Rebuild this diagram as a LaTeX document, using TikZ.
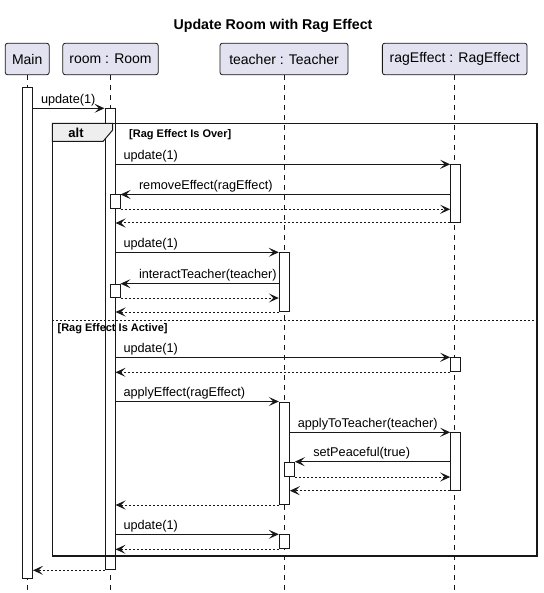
\documentclass[tikz,border=0pt]{standalone}
\usepackage{fontspec}
\setmainfont{Liberation Sans}
\usetikzlibrary{arrows.meta}
\definecolor{umlline}{HTML}{181818}
\definecolor{umlbox}{HTML}{E2E2F0}
\definecolor{umltab}{HTML}{EEEEEE}

\tikzset{
	participant/.style={draw=umlline, fill=umlbox, rounded corners=2.5pt, line width=0.8pt,
		minimum height=31.6pt, inner sep=0pt, font=\fontsize{14}{16}\selectfont},
	lifeline/.style={draw=umlline, line width=0.5pt, dash pattern=on 5pt off 5pt},
	act/.style={draw=umlline, fill=white, line width=1pt, minimum width=10pt, inner sep=0pt, anchor=north},
	call/.style={draw=umlline, line width=1pt, -{Stealth[length=10pt,width=9pt,inset=4.5pt]}},
	reply/.style={call, dash pattern=on 2pt off 2pt},
	msg/.style={font=\fontsize{12.7}{14}\selectfont, anchor=base west, inner sep=0pt, yshift=5pt},
	guard/.style={font=\bfseries\fontsize{11}{13}\selectfont, anchor=base west, inner sep=0pt},
}

\begin{document}
\begin{tikzpicture}[x=1pt, y=-1pt]
	\useasboundingbox[fill=white] (0,0) rectangle (543,593);
	\node[font=\bfseries\fontsize{14.2}{16}\selectfont, anchor=base] (title) at (273,30) {Update Room with Rag Effect};

	% participants
	\node[participant, minimum width=44pt] (main) at (27.2,59) {Main};
	\node[participant, minimum width=95.4pt] (room) at (110.5,59) {room : Room};
	\node[participant, minimum width=128pt] (teacher) at (284,59) {teacher : Teacher};
	\node[participant, minimum width=144.7pt] (rag) at (454.7,59) {ragEffect : RagEffect};
	\coordinate (bottom) at (0,590);
	\foreach \p in {main,room,teacher,rag} {
		\draw[lifeline] (\p.south) -- (\p.south |- bottom);
	}

	% activations
	\node[act, minimum height=491.3pt] (m0) at (27.5,86.7) {};
	\node[act, minimum height=461pt] (r0) at (110,108.3) {};
	\node[act, minimum height=57.7pt] (g1) at (455.7,164.3) {};
	\node[act, minimum height=13.8pt] (r1) at (115,194.5) {};
	\node[act, minimum height=58.7pt] (t1) at (284.3,252.3) {};
	\node[act, minimum height=13.3pt] (r2) at (115,283.7) {};
	\node[act, minimum height=14pt] (g2) at (455.7,357.3) {};
	\node[act, minimum height=102.5pt] (t2) at (284.3,401.5) {};
	\node[act, minimum height=57.4pt] (g3) at (455.7,432.3) {};
	\node[act, minimum height=14.3pt] (t3) at (289.3,461.7) {};
	\node[act, minimum height=14pt] (t4) at (284.3,534.3) {};

	% alt frame
	\draw[draw=umlline, line width=1.5pt] (52.3,123.5) rectangle (537,556);
	\draw[draw=umlline, fill=umltab, line width=1pt] (52.3,123.5) -- (112.7,123.5) -- (112.7,130) -- (103,141.5) -- (52.3,141.5) -- cycle;
	\node[font=\bfseries\fontsize{13}{15}\selectfont, anchor=base, inner sep=0pt] (alt) at (76,138) {alt};
	\node[guard] (over) at (129,137.5) {[Rag Effect Is Over]};
	\draw[draw=umlline, line width=1pt, dash pattern=on 2pt off 2pt] (52.3,320.3) -- (537,320.3);
	\node[guard] (active) at (57.4,331.5) {[Rag Effect Is Active]};

	% messages
	\draw[call] (m0.east |- r0.north) -- (r0.north west) node[msg, pos=0, xshift=7.5pt] {update(1)};
	\draw[call] (r0.east |- g1.north) -- (g1.north west) node[msg, pos=0, xshift=7.5pt] {update(1)};
	\draw[call] (g1.west |- r1.north) -- (r1.north east) node[msg, pos=1, xshift=18pt] {removeEffect(ragEffect)};
	\draw[reply] (r1.south east) -- (g1.west |- r1.south);
	\draw[reply] (g1.south west) -- (r0.east |- g1.south);
	\draw[call] (r0.east |- t1.north) -- (t1.north west) node[msg, pos=0, xshift=7.5pt] {update(1)};
	\draw[call] (t1.west |- r2.north) -- (r2.north east) node[msg, pos=1, xshift=18pt] {interactTeacher(teacher)};
	\draw[reply] (r2.south east) -- (t1.west |- r2.south);
	\draw[reply] (t1.south west) -- (r0.east |- t1.south);
	\draw[call] (r0.east |- g2.north) -- (g2.north west) node[msg, pos=0, xshift=7.5pt] {update(1)};
	\draw[reply] (g2.south west) -- (r0.east |- g2.south);
	\draw[call] (r0.east |- t2.north) -- (t2.north west) node[msg, pos=0, xshift=7.5pt] {applyEffect(ragEffect)};
	\draw[call] (t2.east |- g3.north) -- (g3.north west) node[msg, pos=0, xshift=7.5pt] {applyToTeacher(teacher)};
	\draw[call] (g3.west |- t3.north) -- (t3.north east) node[msg, pos=1, xshift=18pt] {setPeaceful(true)};
	\draw[reply] (t3.south east) -- (g3.west |- t3.south);
	\draw[reply] (g3.south west) -- (t2.east |- g3.south);
	\draw[reply] (t2.south west) -- (r0.east |- t2.south);
	\draw[call] (r0.east |- t4.north) -- (t4.north west) node[msg, pos=0, xshift=7.5pt] {update(1)};
	\draw[reply] (t4.south west) -- (r0.east |- t4.south);
	\draw[reply] (r0.south west) -- (m0.east |- r0.south);
\end{tikzpicture}
\end{document}
